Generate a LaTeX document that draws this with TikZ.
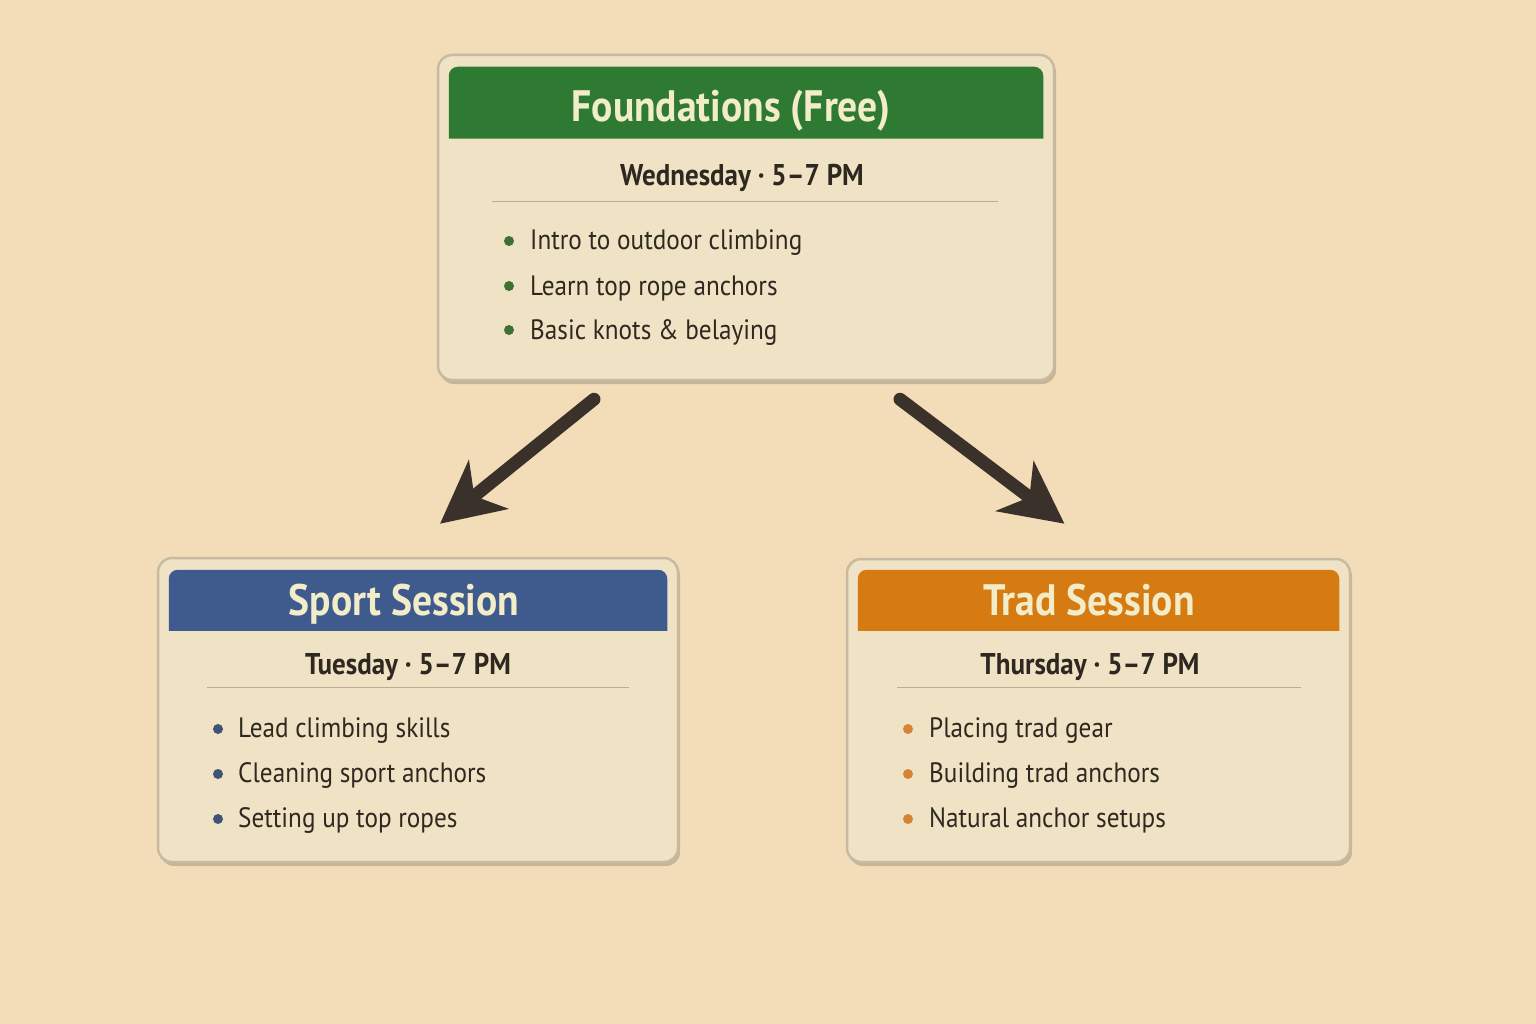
\documentclass[tikz,border=0pt]{standalone}
\usepackage{fontspec}
\setmainfont{PT Sans}[FakeStretch=0.90]
\usepackage{tikz}
\usetikzlibrary{arrows.meta, positioning, calc, shadows}
\usepackage{xcolor}
\definecolor{bgpeach}{RGB}{243,221,185}
\definecolor{cardfill}{RGB}{240,226,196}
\definecolor{cardedge}{RGB}{200,186,160}
\definecolor{rulecol}{RGB}{188,172,146}
\definecolor{inkdark}{RGB}{46,40,32}
\definecolor{hdrtext}{RGB}{242,236,200}
\definecolor{hdrgreen}{RGB}{46,122,50}
\definecolor{hdrblue}{RGB}{63,90,140}
\definecolor{hdrorange}{RGB}{214,123,18}
\definecolor{dotgreen}{RGB}{62,112,52}
\definecolor{dotblue}{RGB}{62,82,122}
\definecolor{dotorange}{RGB}{212,132,52}
\definecolor{arrowcol}{RGB}{58,50,42}

\begin{document}
\begin{tikzpicture}[x=1pt,y=-1pt,
  card/.style={draw=cardedge, line width=2.5pt, fill=cardfill, rounded corners=14pt,
    inner sep=0pt, drop shadow={shadow xshift=2pt, shadow yshift=-4pt, opacity=0.18, fill=black}},
  title/.style={anchor=base, text=hdrtext, font=\fontsize{44}{52}\selectfont\bfseries},
  day/.style={anchor=base, text=inkdark, font=\fontsize{30}{36}\selectfont\bfseries},
  item/.style={anchor=base west, inner sep=0pt, text=inkdark, font=\fontsize{28}{34}\selectfont},
  rule/.style={draw=rulecol, line width=1pt},
  flow/.style={draw=arrowcol, line width=13pt, line cap=round,
    -{Stealth[length=62pt, width=62pt, inset=18pt]}}]
  % Background
  \fill[bgpeach] (0,0) rectangle (1536,1024);
  \useasboundingbox (0,0) rectangle (1536,1024);

  % Foundations card
  \node[card, minimum width=616pt, minimum height=325pt] (found) at (746,217.5) {};
  \fill[hdrgreen] ($(found.north west)+(12,85)$) [rounded corners=9pt]
    -- ($(found.north west)+(12,13)$) -- ($(found.north east)+(-12,13)$) [sharp corners]
    -- ($(found.north east)+(-12,85)$) -- cycle;
  \node[title] (found-title) at (731,122) {Foundations (Free)};
  \node[day] (found-day) at (742,186) {Wednesday · 5–7 PM};
  \draw[rule] (492,202) -- (998,202);
  \foreach \y/\txt [count=\i] in {250/Intro to outdoor climbing, 295/Learn top rope anchors, 339/Basic knots \& belaying}{
    \fill[dotgreen] (509,\y-9) circle (5pt);
    \node[item] (found-\i) at (530,\y) {\txt};
  }

  % Sport card
  \node[card, minimum width=520pt, minimum height=304pt] (sport) at (418,710) {};
  \fill[hdrblue] ($(sport.north west)+(12,74)$) [rounded corners=9pt]
    -- ($(sport.north west)+(12,13)$) -- ($(sport.north east)+(-12,13)$) [sharp corners]
    -- ($(sport.north east)+(-12,74)$) -- cycle;
  \node[title] (sport-title) at (404,615) {Sport Session};
  \node[day] (sport-day) at (408,674) {Tuesday · 5–7 PM};
  \draw[rule] (207,687) -- (629,687);
  \foreach \y/\txt [count=\i] in {737/Lead climbing skills, 782/Cleaning sport anchors, 827/Setting up top ropes}{
    \fill[dotblue] (218,\y-8) circle (5pt);
    \node[item] (sport-\i) at (238,\y) {\txt};
  }

  % Trad card
  \node[card, minimum width=503pt, minimum height=303pt] (trad) at (1098.5,710.5) {};
  \fill[hdrorange] ($(trad.north west)+(12,73)$) [rounded corners=9pt]
    -- ($(trad.north west)+(12,12)$) -- ($(trad.north east)+(-12,12)$) [sharp corners]
    -- ($(trad.north east)+(-12,73)$) -- cycle;
  \node[title] (trad-title) at (1089,615) {Trad Session};
  \node[day] (trad-day) at (1090,674) {Thursday · 5–7 PM};
  \draw[rule] (897,687) -- (1301,687);
  \foreach \y/\txt [count=\i] in {737/Placing trad gear, 782/Building trad anchors, 827/Natural anchor setups}{
    \fill[dotorange] (908,\y-8) circle (5pt);
    \node[item] (trad-\i) at (929,\y) {\txt};
  }

  % Arrows
  \coordinate (to-sport) at ($(found.south)+(-152,18)$);
  \coordinate (to-trad) at ($(found.south)+(154,18)$);
  \coordinate (sport-in) at ($(sport.north)+(22,-33)$);
  \coordinate (trad-in) at ($(trad.north)+(-34,-34)$);
  \draw[flow] (to-sport) -- (sport-in);
  \draw[flow] (to-trad) -- (trad-in);
\end{tikzpicture}
\end{document}
